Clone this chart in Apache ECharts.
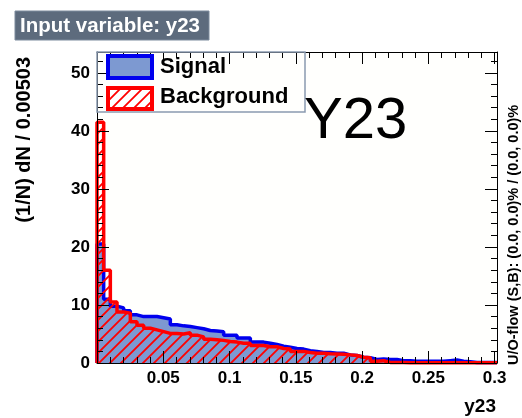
<!DOCTYPE html>
<html>
<head>
<meta charset="utf-8">
<script src="https://cdn.jsdelivr.net/npm/echarts@6/dist/echarts.min.js"></script>
<style>
html,body{margin:0;padding:0;background:#fff;}
#c{width:522px;height:418px;}
</style>
</head>
<body>
<div id="c"></div>
<script>
// ---- data ----
const xMin = 0;
const binWidth = 0.00503;
const signalValues = [
  20.5, 11.0, 9.8, 9.5, 9.0, 8.3, 8.0, 8.0, 8.0, 7.8,
  7.6, 6.6, 6.4, 6.3, 6.1, 5.9, 5.6, 5.5, 5.4, 4.8,
  4.8, 4.3, 4.3, 3.6, 3.6, 3.4, 3.2, 2.9, 2.7, 2.5,
  2.4, 2.1, 2.0, 1.8, 1.8, 1.7, 1.7, 1.4, 1.3, 1.0,
  0.9, 0.6, 0.7, 0.6, 0.6, 0.4, 0.4, 0.3, 0.3, 0.3,
  0.3, 0.3, 0.4, 0.5, 0.3, 0.2, 0.1, 0.1, 0.1, 0.1
];
const backgroundValues = [
  41.5, 16.0, 10.5, 8.8, 8.6, 7.1, 6.5, 6.0, 5.7, 5.4,
  5.1, 5.1, 5.0, 5.2, 4.8, 4.5, 4.1, 4.0, 3.9, 3.7,
  3.6, 3.4, 3.4, 3.0, 3.0, 2.8, 2.8, 2.5, 2.4, 2.0,
  2.0, 1.8, 1.7, 1.7, 1.6, 1.55, 1.5, 1.4, 1.3, 1.0,
  0.9, 0.3, 0.4, 0.1, 0.1, 0.1, 0.05, 0.05, 0.05, 0.05,
  0.05, 0.05, 0.05, 0.05, 0.05, 0.05, 0.05, 0.05, 0.05, 0.05
];
const xTickLabels = ['0.05', '0.1', '0.15', '0.2', '0.25', '0.3'];
const yTickLabels = ['0', '10', '20', '30', '40', '50'];
const xMajor = 0.05, xMinorStep = 0.01;
const yMajor = 10, yMinorStep = 2;
const yMax = 53.6;
const seriesNames = ['Signal', 'Background'];
const titleText = 'Input variable: y23';
const xTitle = 'y23';
const yTitle = '(1/N) dN / 0.00503';
const bigLabel = 'Y23';
const flowText = 'U/O-flow (S,B): (0.0, 0.0)% / (0.0, 0.0)%';

const xMax = xMin + signalValues.length * binWidth;

// ---- helpers ----
function stepData(vals) {
  const d = [[xMin, 0]];
  vals.forEach((v, i) => d.push([xMin + i * binWidth, v]));
  d.push([xMin + vals.length * binWidth, vals[vals.length - 1]]);
  d.push([xMin + vals.length * binWidth, 0]);
  return d;
}
function hatch(size, lw) {
  const c = document.createElement('canvas');
  c.width = size; c.height = size;
  const g = c.getContext('2d');
  g.strokeStyle = '#ff0000';
  g.lineWidth = lw;
  g.beginPath();
  g.moveTo(-size / 2, size / 2); g.lineTo(size / 2, -size / 2);
  g.moveTo(0, size); g.lineTo(size, 0);
  g.moveTo(size / 2, size * 1.5); g.lineTo(size * 1.5, size / 2);
  g.stroke();
  return c;
}
const hatchCanvas = hatch(11, 1.8);
const hatchPattern = { image: hatchCanvas, repeat: 'repeat' };

const FONT = '"Liberation Sans", Arial, Helvetica, sans-serif';

function xLabelFmt(v) {
  const k = Math.round(v / xMajor);
  if (k >= 1 && Math.abs(v - k * xMajor) < 1e-7) return xTickLabels[k - 1] || '';
  return '';
}
function yLabelFmt(v) {
  const k = Math.round(v / yMajor);
  if (Math.abs(v - k * yMajor) < 1e-7) return yTickLabels[k] || '';
  return '';
}

function xAx(pos, interval, len, labels, line) {
  return {
    type: 'value', position: pos, min: xMin, max: xMax, interval: interval,
    z: 10,
    axisLine: { show: line, onZero: false, lineStyle: { color: '#000', width: 1 } },
    axisTick: { show: true, inside: true, length: len, lineStyle: { color: '#000', width: 1 } },
    axisLabel: labels ? { show: true, formatter: xLabelFmt, color: '#000', fontFamily: FONT, fontWeight: 'bold', fontSize: 17, margin: 7 } : { show: false },
    splitLine: { show: false }
  };
}
function yAx(pos, interval, len, labels, line) {
  return {
    type: 'value', position: pos, min: 0, max: yMax, interval: interval,
    z: 10,
    axisLine: { show: line, onZero: false, lineStyle: { color: '#000', width: 1 } },
    axisTick: { show: true, inside: true, length: len, lineStyle: { color: '#000', width: 1 } },
    axisLabel: labels ? { show: true, formatter: yLabelFmt, color: '#000', fontFamily: FONT, fontWeight: 'bold', fontSize: 17, margin: 7 } : { show: false },
    splitLine: { show: false }
  };
}

const chart = echarts.init(document.getElementById('c'), null, { renderer: 'canvas' });
chart.setOption({
  animation: false,
  backgroundColor: '#ffffff',
  grid: { left: 97, right: 25, top: 52, bottom: 55, show: true, backgroundColor: '#fffffd', borderWidth: 0 },
  xAxis: [
    xAx('bottom', xMajor, 12, true, true),
    xAx('bottom', xMinorStep, 6, false, false),
    xAx('top', xMajor, 12, false, true),
    xAx('top', xMinorStep, 6, false, false)
  ],
  yAxis: [
    yAx('left', yMajor, 12, true, true),
    yAx('left', yMinorStep, 6, false, false),
    yAx('right', yMajor, 12, false, true),
    yAx('right', yMinorStep, 6, false, false)
  ],
  series: [
    {
      name: seriesNames[0], type: 'line', step: 'end', xAxisIndex: 0, yAxisIndex: 0,
      data: stepData(signalValues), showSymbol: false, symbol: 'none', clip: false,
      lineStyle: { color: '#0000ee', width: 3.5 },
      areaStyle: { color: '#7d99d1', opacity: 1 },
      z: 2
    },
    {
      name: seriesNames[1], type: 'line', step: 'end', xAxisIndex: 0, yAxisIndex: 0,
      data: stepData(backgroundValues), showSymbol: false, symbol: 'none', clip: false,
      lineStyle: { color: '#ff0000', width: 3.5 },
      areaStyle: { color: hatchPattern, opacity: 1 },
      z: 3
    }
  ],
  graphic: [
    // title box
    { type: 'rect', shape: { x: 15, y: 11, width: 194, height: 29 }, style: { fill: '#5d6b7d', stroke: '#7d8b9d', lineWidth: 1 }, z: 20 },
    { type: 'text', x: 20, y: 26, style: { text: titleText, fill: '#ffffff', font: 'bold 20.5px ' + FONT, verticalAlign: 'middle', align: 'left' }, z: 21 },
    // legend box
    { type: 'rect', shape: { x: 97, y: 52, width: 208, height: 60 }, style: { fill: 'none', stroke: '#8a9ab0', lineWidth: 1.5 }, z: 20 },
    { type: 'rect', shape: { x: 108, y: 56, width: 44, height: 22 }, style: { fill: '#7d99d1', stroke: '#0000ee', lineWidth: 4 }, z: 21 },
    { type: 'rect', shape: { x: 108, y: 88, width: 44, height: 21 }, style: { fill: '#ffffff', stroke: '#ff0000', lineWidth: 4 }, z: 21 },
    { type: 'rect', shape: { x: 110, y: 90, width: 40, height: 17 }, style: { fill: hatchPattern }, z: 22 },
    { type: 'text', x: 160, y: 67, style: { text: seriesNames[0], fill: '#000', font: 'bold 22px ' + FONT, verticalAlign: 'middle', align: 'left' }, z: 21 },
    { type: 'text', x: 160, y: 97, style: { text: seriesNames[1], fill: '#000', font: 'bold 22px ' + FONT, verticalAlign: 'middle', align: 'left' }, z: 21 },
    // big label
    { type: 'text', x: 304, y: 122, style: { text: bigLabel, fill: '#000', font: '58px ' + FONT, verticalAlign: 'middle', align: 'left' }, z: 21 },
    // axis titles
    { type: 'text', x: 24, y: 57, rotation: Math.PI / 2, style: { text: yTitle, fill: '#000', font: 'bold 20px ' + FONT, verticalAlign: 'middle', align: 'right' }, z: 21 },
    { type: 'text', x: 496, y: 407, style: { text: xTitle, fill: '#000', font: 'bold 19px ' + FONT, verticalAlign: 'middle', align: 'right' }, z: 21 },
    { type: 'text', x: 514, y: 365, rotation: Math.PI / 2, style: { text: flowText, fill: '#000', font: 'bold 14.5px ' + FONT, verticalAlign: 'middle', align: 'left' }, z: 21 }
  ]
});
</script>
</body>
</html>
